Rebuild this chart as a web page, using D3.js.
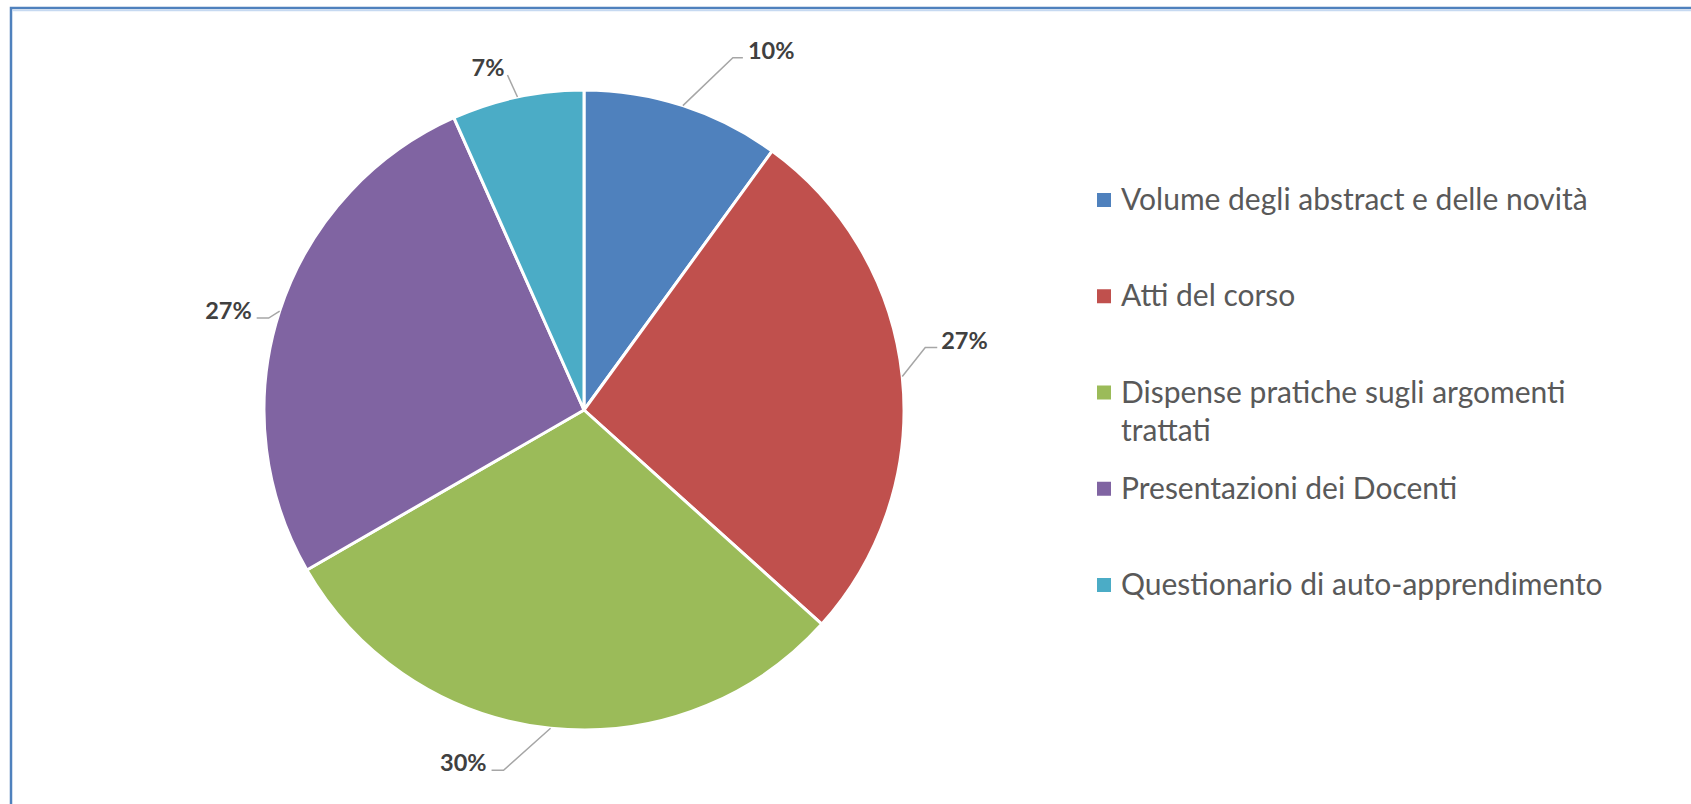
<!DOCTYPE html>
<html>
<head>
<meta charset="utf-8">
<script src="https://cdn.jsdelivr.net/npm/d3@7"></script>
<style>
  html, body { margin: 0; padding: 0; background: #fff; overflow: hidden; }
  svg { display: block; }
</style>
</head>
<body>
<svg id="chart" width="1691" height="804"></svg>
<script>
// ---- data ----
const categories = [
  "Volume degli abstract e delle novità",
  "Atti del corso",
  "Dispense pratiche sugli argomenti trattati",
  "Presentazioni dei Docenti",
  "Questionario di auto-apprendimento"
];
const values = [3, 8, 9, 8, 2];
const colors = ["#4F81BD", "#C0504D", "#9BBB59", "#8064A2", "#4BACC6"];
const legendLines = [
  ["Volume degli abstract e delle novità"],
  ["Atti del corso"],
  ["Dispense pratiche sugli argomenti", "trattati"],
  ["Presentazioni dei Docenti"],
  ["Questionario di auto-apprendimento"]
];

// ---- layout ----
const W = 1691, H = 804;
const cx = 584, cy = 410, R = 320;
// leader line elbow / end offsets relative to the arc anchor point
const leader = [
  {elbow: [50, -48], end: [60, -48], anchor: "start", tx: 5},
  {elbow: [23, -29], end: [35, -29], anchor: "start", tx: 4},
  {elbow: [-47, 42], end: [-59, 42], anchor: "end", tx: -5},
  {elbow: [-11, 7], end: [-23, 7], anchor: "end", tx: -5},
  {elbow: [-10, -22], end: [-10, -22], anchor: "end", tx: -3}
];

const svg = d3.select("#chart");

// frame
svg.append("path")
  .attr("d", `M11,${H + 5} L11,8 L${W + 5},8`)
  .attr("fill", "none")
  .attr("stroke", "#4F81BD")
  .attr("stroke-width", 2.5);
svg.append("line")
  .attr("x1", 12).attr("x2", W + 5).attr("y1", 10.5).attr("y2", 10.5)
  .attr("stroke", "#c6d9f1").attr("stroke-width", 1.5);

const total = d3.sum(values);
const pie = d3.pie().sort(null).value(d => d)(values);
const arc = d3.arc().innerRadius(0).outerRadius(R);

const g = svg.append("g").attr("transform", `translate(${cx},${cy})`);
g.selectAll("path.slice")
  .data(pie)
  .join("path")
  .attr("class", "slice")
  .attr("d", arc)
  .attr("fill", (d, i) => colors[i])
  .attr("stroke", "#fff")
  .attr("stroke-width", 3)
  .attr("stroke-linejoin", "round");

// labels with leader lines
pie.forEach((d, i) => {
  const mid = (d.startAngle + d.endAngle) / 2;
  const ax = Math.sin(mid) * R, ay = -Math.cos(mid) * R;
  const L = leader[i];
  const ex = ax + L.elbow[0], ey = ay + L.elbow[1];
  const fx = ax + L.end[0], fy = ay + L.end[1];
  g.append("path")
    .attr("d", `M${ax},${ay} L${ex},${ey} L${fx},${fy}`)
    .attr("fill", "none")
    .attr("stroke", "#a6a6a6")
    .attr("stroke-width", 1.5);
  g.append("text")
    .attr("x", fx + L.tx)
    .attr("y", fy + 1)
    .attr("text-anchor", L.anchor)
    .attr("font-family", "Lato, 'Open Sans', sans-serif")
    .attr("font-weight", "bold")
    .attr("font-size", 23.5)
    .attr("fill", "#404040")
    .text(d3.format(".0%")(d.value / total));
});

// legend
const legY = d3.scalePoint().domain(d3.range(categories.length)).range([200, 585]);
const leg = svg.append("g");
categories.forEach((c, i) => {
  const y = legY(i);
  leg.append("rect")
    .attr("x", 1097).attr("y", y - 7)
    .attr("width", 14).attr("height", 14)
    .attr("fill", colors[i]);
  const t = leg.append("text")
    .attr("x", 1121)
    .attr("y", y + 10)
    .attr("font-family", "Lato, 'Open Sans', sans-serif")
    .attr("font-size", 30)
    .attr("fill", "#595959");
  legendLines[i].forEach((ln, k) => {
    t.append("tspan").attr("x", 1121).attr("dy", k === 0 ? 0 : 38).text(ln);
  });
});
</script>
</body>
</html>
